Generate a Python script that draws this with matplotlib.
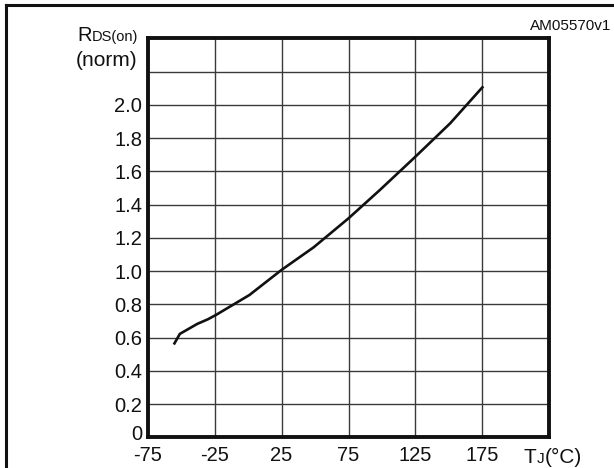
import matplotlib
matplotlib.use("Agg")
import matplotlib.pyplot as plt
import matplotlib.transforms as mtrans
from matplotlib.lines import Line2D

plt.rcParams['font.family'] = ['Liberation Sans', 'DejaVu Sans']

# Data
tj = [-55, -51, -38, -30, -24, 1, 25, 49, 75, 98.5, 125, 151, 175]
rds_norm = [0.565, 0.622, 0.682, 0.710, 0.736, 0.856, 1.007, 1.143, 1.317, 1.488, 1.688, 1.889, 2.105]

xticks = [-75, -25, 25, 75, 125, 175]
xtick_labels = ['-75', '-25', '25', '75', '125', '175']
yticks = [0, 0.2, 0.4, 0.6, 0.8, 1.0, 1.2, 1.4, 1.6, 1.8, 2.0]
ytick_labels = ['0', '0.2', '0.4', '0.6', '0.8', '1.0', '1.2', '1.4', '1.6', '1.8', '2.0']

W, H = 614, 468
fig = plt.figure(figsize=(W / 100, H / 100), dpi=100)
ax = fig.add_axes([147.7 / W, 1 - 437.3 / H, (549.3 - 147.7) / W, (437.3 - 38.3) / H])

ax.set_xlim(-75, 225)
ax.set_ylim(0, 2.4)

# grid
for gx in range(-25, 225, 50):
    ax.axvline(gx, color='#3a3a3a', lw=1.0, zorder=1)
for i in range(1, 12):
    ax.axhline(i * 0.2, color='#3a3a3a', lw=1.0, zorder=1)

ax.plot(tj, rds_norm, color='#111111', lw=1.9, zorder=3)

ax.set_xticks(xticks)
ax.set_xticklabels(xtick_labels)
ax.set_yticks(yticks)
ax.set_yticklabels(ytick_labels)
ax.tick_params(length=0, labelsize=14.5, colors='#111111')
ax.tick_params(axis='y', pad=4)
ax.tick_params(axis='x', pad=6)
for s in ax.spines.values():
    s.set_linewidth(2.8)
    s.set_color('#111111')

# raise the "0" label a little, as in the reference
zero_lbl = ax.get_yticklabels()[0]
zero_lbl.set_transform(zero_lbl.get_transform() + mtrans.ScaledTranslation(0, 5 / 100, fig.dpi_scale_trans))

def px(x, y):
    return x / W, 1 - y / H

# y label: R + small DS(on), then (norm)
fig.text(*px(77, 41), 'R', fontsize=14.5, ha='left', va='baseline', color='#111111')
fig.text(*px(92, 41), 'DS(on)', fontsize=10.5, ha='left', va='baseline', color='#111111')
fig.text(*px(137, 60), '(norm)', fontsize=15, ha='right', va='center', color='#111111')

# x label: T + small J + (°C)
fig.text(*px(524, 463), 'T', fontsize=15, ha='left', va='baseline', color='#111111')
fig.text(*px(536.5, 463), 'J', fontsize=11, ha='left', va='baseline', color='#111111')
fig.text(*px(544.5, 463), '(°C)', fontsize=15, ha='left', va='baseline', color='#111111')

# code label
fig.text(*px(611, 26), 'AM05570v1', fontsize=11, ha='right', va='center', color='#111111')

# outer frame (left and top only visible)
fig.add_artist(Line2D([6 / W, 6 / W], [0, 1 - 5 / H], transform=fig.transFigure, color='#111111', lw=2.2))
fig.add_artist(Line2D([6 / W, 1], [1 - 5 / H, 1 - 5 / H], transform=fig.transFigure, color='#111111', lw=2.2))

fig.savefig('out.png', dpi=100)
